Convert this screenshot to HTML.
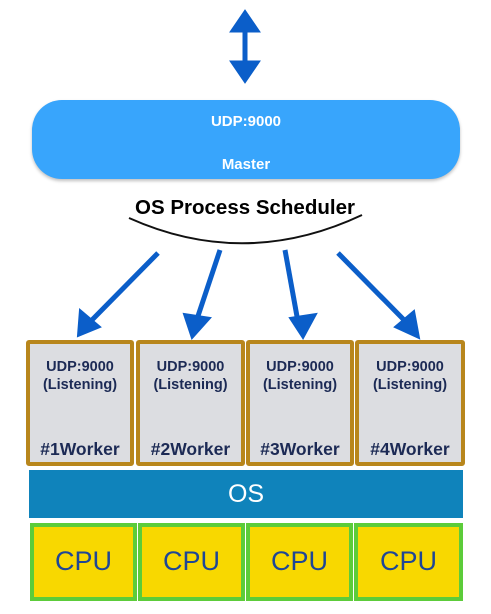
<!DOCTYPE html>
<html><head><meta charset="utf-8"><style>
body{margin:0;width:491px;height:614px;background:#fff;position:relative;overflow:hidden;font-family:"Liberation Sans",sans-serif}
.a{position:absolute}
.master{left:32px;top:100px;width:428px;height:79px;background:#38a5fc;border-radius:30px;box-shadow:0 2px 3px rgba(0,0,0,.25)}
.mt{position:absolute;width:100%;text-align:center;color:#fff;font-weight:bold;font-size:15px}
.w{position:absolute;top:340px;height:118px;background:#dcdde1;border:4px solid #b8861c;border-radius:3px;color:#1c2a55;font-weight:bold;text-align:center}
.w .u{position:absolute;top:14px;width:100%;font-size:14.5px;line-height:18px}
.w .k{position:absolute;top:95px;width:100%;font-size:17.5px}
.os{left:29px;top:470px;width:434px;height:48px;background:#0f83bb;color:#fff;font-size:25px;text-align:center;line-height:48px}
.c{position:absolute;top:523px;height:70px;background:#f8d800;border:4px solid #5ccc3a;color:#1e4696;font-size:27px;text-align:center;line-height:68px}
</style></head><body>
<svg class="a" style="left:0;top:0" width="491" height="340">
<g fill="#0b5ec9" stroke="#0b5ec9">
<line x1="245" y1="25" x2="245" y2="68" stroke-width="5"/>
<polygon points="245,10 230,32 260,32"/>
<polygon points="245,83 230,61 260,61"/>
<g stroke-width="5">
<line x1="158" y1="253" x2="90" y2="322"/>
<line x1="220" y1="250" x2="196" y2="322"/>
<line x1="285" y1="250" x2="298" y2="322"/>
<line x1="338" y1="253" x2="408" y2="324"/>
</g>
<polygon points="78,336 80,310 100,327" stroke-width="2"/>
<polygon points="192,338 184,314 210,318" stroke-width="2"/>
<polygon points="303,338 290,318 316,314" stroke-width="2"/>
<polygon points="419,338 395,327 414,311" stroke-width="2"/>
</g>
<path d="M129,218 Q245,270 362,215" fill="none" stroke="#111" stroke-width="2"/>
<text x="245" y="214" text-anchor="middle" font-family="Liberation Sans" font-weight="bold" font-size="20.5" fill="#000">OS Process Scheduler</text>
</svg>
<div class="a master"><div class="mt" style="top:13px">UDP:9000</div><div class="mt" style="top:56px">Master</div></div>
<div class="w" style="left:26px;width:100px"><div class="u">UDP:9000<br>(Listening)</div><div class="k">#1Worker</div></div>
<div class="w" style="left:136px;width:101px"><div class="u">UDP:9000<br>(Listening)</div><div class="k">#2Worker</div></div>
<div class="w" style="left:246px;width:100px"><div class="u">UDP:9000<br>(Listening)</div><div class="k">#3Worker</div></div>
<div class="w" style="left:355px;width:102px"><div class="u">UDP:9000<br>(Listening)</div><div class="k">#4Worker</div></div>
<div class="a os">OS</div>
<div class="c" style="left:30px;width:99px">CPU</div>
<div class="c" style="left:138px;width:99px">CPU</div>
<div class="c" style="left:246px;width:99px">CPU</div>
<div class="c" style="left:354px;width:101px">CPU</div>
</body></html>
